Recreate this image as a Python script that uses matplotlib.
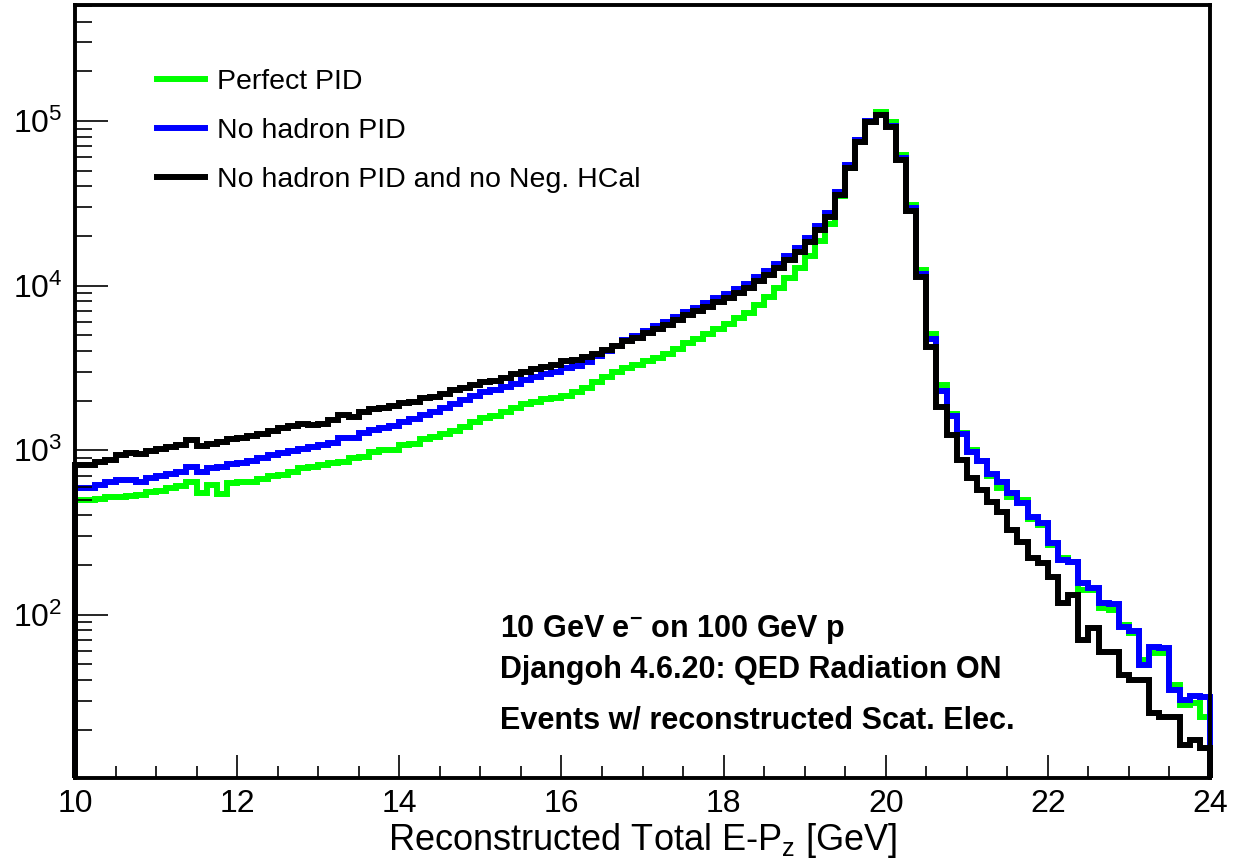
import numpy as np
import matplotlib
matplotlib.use("Agg")
import matplotlib.pyplot as plt
from matplotlib.ticker import MultipleLocator, LogLocator, FuncFormatter, NullFormatter

# ── DATA ──────────────────────────────────────────────────────────────────────
# 0.125 GeV bins from 10 to 24 GeV (112 bins), counts
BIN_LO = 10.0
BIN_WIDTH = 0.125

perfect_pid = [
    497, 497, 504, 518, 518, 525, 532, 556, 564, 587,
    604, 639, 548, 613, 541, 630, 639, 639, 666, 695,
    705, 735, 778, 788, 811, 834, 846, 894, 906, 972,
    1000, 1000, 1072, 1087, 1167, 1200, 1251, 1305, 1380, 1480,
    1566, 1610, 1702, 1800, 1904, 1958, 2042, 2070, 2130, 2253,
    2381, 2589, 2778, 2980, 3150, 3288, 3478, 3624, 3833, 4111,
    4467, 4730, 5070, 5441, 5834, 6339, 6800, 7607, 8511, 9650,
    11120, 12770, 15100, 18660, 23660, 35000, 51760, 76560, 99700, 113300,
    98600, 62110, 30830, 12420, 5070, 2483, 1656, 1268, 1000, 857,
    695, 587, 518, 497, 381, 350, 264, 220, 208, 141,
    141, 110, 106, 86.3, 77.2, 52.9, 58.3, 58.3, 37.2, 28.2,
    29.0, 23.8,
]

no_hadron_pid = [
    587, 587, 613, 639, 657, 657, 639, 676, 695, 715,
    735, 788, 735, 778, 788, 822, 834, 857, 894, 933,
    959, 986, 1014, 1043, 1072, 1103, 1183, 1183, 1268, 1324,
    1361, 1400, 1480, 1543, 1632, 1702, 1800, 1904, 2014, 2130,
    2253, 2316, 2415, 2518, 2663, 2778, 2898, 2980, 3150, 3242,
    3428, 3725, 3997, 4288, 4667, 4935, 5290, 5672, 5998, 6434,
    6900, 7297, 7830, 8395, 8877, 9520, 10210, 11280, 12250, 13510,
    15100, 16900, 19450, 23010, 27610, 36980, 54070, 76560, 100000, 108700,
    93350, 59560, 29580, 11750, 4730, 2284, 1610, 1251, 972, 857,
    715, 639, 548, 476, 392, 360, 272, 214, 208, 155,
    145, 117, 116, 84, 79, 49.4, 63.4, 62.5, 34.8, 30.2,
    32.0, 31.5,
]

no_hadron_no_neg_hcal = [
    811, 811, 846, 869, 933, 959, 946, 986, 1014, 1043,
    1072, 1150, 1057, 1087, 1118, 1167, 1190, 1210, 1251, 1305,
    1361, 1400, 1439, 1420, 1439, 1522, 1632, 1588, 1702, 1775,
    1800, 1850, 1931, 1958, 2070, 2100, 2189, 2316, 2381, 2483,
    2589, 2625, 2739, 2898, 2980, 3107, 3196, 3288, 3478, 3525,
    3676, 3833, 4054, 4288, 4601, 4798, 5144, 5441, 5755, 6170,
    6615, 6997, 7400, 7937, 8395, 9000, 9650, 10650, 11580, 12770,
    14290, 15990, 18380, 21740, 26070, 35460, 51760, 74480, 98600, 108700,
    92040, 57920, 28390, 11280, 4225, 1825, 1234, 869, 676, 571,
    483, 420, 326, 276, 220, 206, 169, 117, 131, 70,
    83, 59, 59, 43, 40, 40, 25.2, 23.8, 23.8, 16.1,
    17.3, 15.4,
]

series_labels = ["Perfect PID", "No hadron PID", "No hadron PID and no Neg. HCal"]
series_colors = ["#00ff00", "#0000ff", "#000000"]

info_lines = [
    r"10 GeV e$^{\mathbf{-}}$ on 100 GeV p",
    "Djangoh 4.6.20: QED Radiation ON",
    "Events w/ reconstructed Scat. Elec.",
]

# ── STYLE ─────────────────────────────────────────────────────────────────────
plt.rcParams["font.family"] = ["Liberation Sans", "DejaVu Sans"]
plt.rcParams["mathtext.fontset"] = "custom"
plt.rcParams["mathtext.rm"] = "Liberation Sans"
plt.rcParams["mathtext.bf"] = "Liberation Sans:bold"
plt.rcParams["mathtext.default"] = "regular"

W, H = 1234, 860
fig = plt.figure(figsize=(W / 100, H / 100), dpi=100)
ax = fig.add_axes([75 / W, (H - 778) / H, (1210 - 75) / W, (778 - 5) / H])

Y_MIN, Y_MAX = 10.15, 5.07e5

n_bins = len(perfect_pid)
edges = BIN_LO + BIN_WIDTH * np.arange(n_bins + 1)

# drawn in ROOT order: first histogram at the bottom, edges drop to the frame
for vals, lab, col in zip([perfect_pid, no_hadron_pid, no_hadron_no_neg_hcal],
                          series_labels, series_colors):
    ax.stairs(vals, edges, baseline=Y_MIN, color=col, linewidth=4.3, label=lab,
              clip_on=False)

ax.set_yscale("log")
ax.set_xlim(10, 24)
ax.set_ylim(Y_MIN, Y_MAX)

# ticks, ROOT-like: inward, bottom + left only
ax.xaxis.set_major_locator(MultipleLocator(2))
ax.xaxis.set_minor_locator(MultipleLocator(0.5))
ax.yaxis.set_major_locator(LogLocator(base=10))
ax.yaxis.set_minor_locator(LogLocator(base=10, subs=np.arange(2, 10)))
ax.yaxis.set_major_formatter(FuncFormatter(lambda v, p: r"$10^{%d}$" % round(np.log10(v))))
ax.yaxis.set_minor_formatter(NullFormatter())

ax.tick_params(axis="both", which="both", direction="in", top=False, right=False,
               labelsize=23, width=1.2, color="black")
ax.tick_params(axis="x", which="major", length=16.5, pad=8)
ax.tick_params(axis="x", which="minor", length=8.5)
ax.tick_params(axis="y", which="major", length=23.8, pad=9)
ax.tick_params(axis="y", which="minor", length=12.2)

for sp in ax.spines.values():
    sp.set_linewidth(2.8)
    sp.set_zorder(5)

ax.set_xlabel(r"Reconstructed Total E-P$_{z}$ [GeV]", fontsize=26)
ax.xaxis.set_label_coords(0.5, -0.056)

ax.legend(loc="upper left", bbox_to_anchor=(0.0722, 0.917), frameon=False,
          fontsize=20.5, handlelength=1.68, handletextpad=0.42,
          labelspacing=0.8, borderpad=0, borderaxespad=0)

for i, line in enumerate(info_lines):
    ax.text(0.3744, [0.1915, 0.1397, 0.0750][i], line, transform=ax.transAxes,
            fontsize=22, fontweight="bold", va="center", ha="left")

fig.savefig("out.png", dpi=100)
